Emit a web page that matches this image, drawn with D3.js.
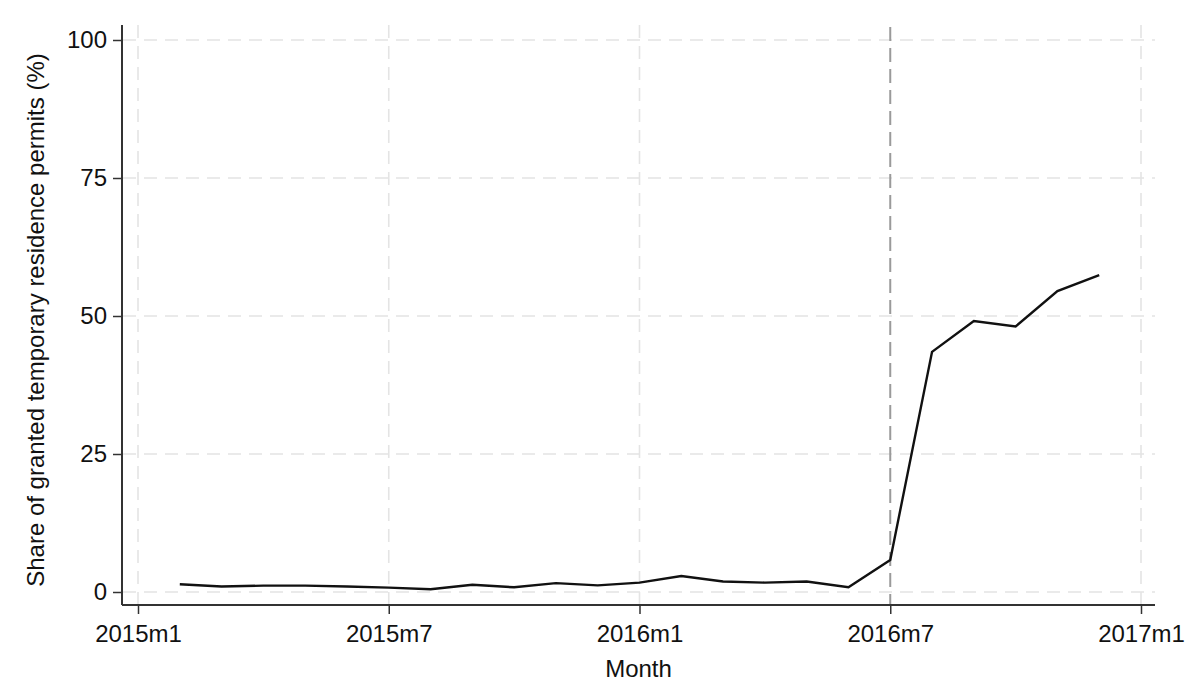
<!DOCTYPE html>
<html>
<head>
<meta charset="utf-8">
<script src="https://cdn.jsdelivr.net/npm/d3@7"></script>
<style>
  html, body { margin: 0; padding: 0; background: #fff; }
  svg { display: block; font-family: "Liberation Sans", Arial, sans-serif; }
</style>
</head>
<body>
<svg id="chart" width="1200" height="699"></svg>
<script>
// Data: month index 0 = 2015m1
const months = ["2015m2","2015m3","2015m4","2015m5","2015m6","2015m7","2015m8","2015m9","2015m10","2015m11","2015m12",
                "2016m1","2016m2","2016m3","2016m4","2016m5","2016m6","2016m7","2016m8","2016m9","2016m10","2016m11","2016m12"];
const monthIndex = [1,2,3,4,5,6,7,8,9,10,11,12,13,14,15,16,17,18,19,20,21,22,23];
const shares = [1.4,1.0,1.15,1.15,1.0,0.8,0.5,1.3,0.85,1.6,1.2,1.7,2.9,1.9,1.7,1.9,0.85,5.8,43.5,49.1,48.1,54.5,57.4];
const xTickValues = [0,6,12,18,24];
const xTickLabels = ["2015m1","2015m7","2016m1","2016m7","2017m1"];
const yTickValues = [0,25,50,75,100];
const refLineMonth = 18; // 2016m7

const svg = d3.select("#chart");
const x = d3.scaleLinear().domain([0,24]).range([138,1141]);
const y = d3.scaleLinear().domain([0,100]).range([592,40]);

const plotLeft = 122, plotRight = 1155, plotTop = 25, plotBottom = 605;
const fontSize = 24;

// gridlines
const grid = svg.append("g");
grid.selectAll("line.h").data(yTickValues).join("line")
  .attr("x1", plotLeft + 1).attr("x2", plotRight)
  .attr("y1", d => y(d)).attr("y2", d => y(d))
  .attr("stroke", "#e4e4e4").attr("stroke-width", 1.6)
  .attr("stroke-dasharray", "13,8");
grid.selectAll("line.v").data(xTickValues.filter(d => d !== refLineMonth)).join("line")
  .attr("x1", d => x(d)).attr("x2", d => x(d))
  .attr("y1", plotTop).attr("y2", plotBottom - 1)
  .attr("stroke", "#e4e4e4").attr("stroke-width", 1.6)
  .attr("stroke-dasharray", "13,8");

// reference line
svg.append("line")
  .attr("x1", x(refLineMonth)).attr("x2", x(refLineMonth))
  .attr("y1", plotTop + 2).attr("y2", plotBottom)
  .attr("stroke", "#9a9a9a").attr("stroke-width", 2)
  .attr("stroke-dasharray", "14,7");

// data line
const pts = monthIndex.map((m, i) => [m, shares[i]]);
svg.append("path")
  .datum(pts)
  .attr("fill", "none")
  .attr("stroke", "#111")
  .attr("stroke-width", 2.4)
  .attr("stroke-linejoin", "miter")
  .attr("d", d3.line().x(d => x(d[0])).y(d => y(d[1])));

// Axes
const xAxis = d3.axisBottom(x).tickValues(xTickValues)
  .tickFormat((d, i) => xTickLabels[i]).tickSize(9).tickPadding(11);
const gx = svg.append("g").attr("transform", `translate(0,${plotBottom})`).call(xAxis);
gx.select(".domain").remove();
gx.selectAll(".tick line").attr("stroke", "#333").attr("stroke-width", 1.5);
gx.selectAll(".tick text").attr("font-size", fontSize).attr("fill", "#111")
  .attr("font-family", "Liberation Sans, Arial, sans-serif");

const yAxis = d3.axisLeft(y).tickValues(yTickValues).tickSize(9).tickPadding(6);
const gy = svg.append("g").attr("transform", `translate(${plotLeft},0)`).call(yAxis);
gy.select(".domain").remove();
gy.selectAll(".tick line").attr("stroke", "#333").attr("stroke-width", 1.5);
gy.selectAll(".tick text").attr("font-size", fontSize).attr("fill", "#111")
  .attr("font-family", "Liberation Sans, Arial, sans-serif");

// axis lines
svg.append("line").attr("x1", plotLeft).attr("x2", plotRight)
  .attr("y1", plotBottom).attr("y2", plotBottom)
  .attr("stroke", "#333").attr("stroke-width", 2);
svg.append("line").attr("x1", plotLeft).attr("x2", plotLeft)
  .attr("y1", plotTop).attr("y2", plotBottom)
  .attr("stroke", "#333").attr("stroke-width", 2);

// titles
svg.append("text")
  .attr("x", (plotLeft + plotRight) / 2)
  .attr("y", 677)
  .attr("text-anchor", "middle")
  .attr("font-size", fontSize).attr("fill", "#111")
  .text("Month");
svg.append("text")
  .attr("transform", `translate(44,${(y(0) + y(100)) / 2 + 4}) rotate(-90)`)
  .attr("text-anchor", "middle")
  .attr("font-size", fontSize).attr("fill", "#111")
  .text("Share of granted temporary residence permits (%)");
</script>
</body>
</html>
